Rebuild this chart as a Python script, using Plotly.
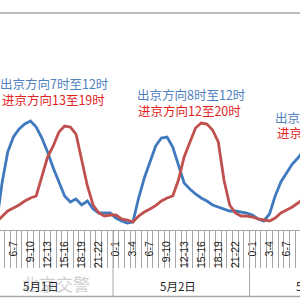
import plotly.graph_objects as go

# ---- data ----
days = ["5月1日", "5月2日", "5月3日"]
hours = ["0-1", "1-2", "2-3", "3-4", "4-5", "5-6", "6-7", "7-8", "8-9", "9-10",
         "10-11", "11-12", "12-13", "13-14", "14-15", "15-16", "16-17", "17-18",
         "18-19", "19-20", "20-21", "21-22", "22-23", "23-24"]
start_hour = 3  # first value = 5月1日 3-4

out_beijing = [0.25, 2.35, 3.9, 4.65, 5.05, 5.3, 5.45, 5.15, 4.6, 3.9, 3.1, 2.4, 1.7, 1.4,
               1.55, 1.25, 1.45, 1.05, 0.85, 0.85, 0.85, 0.6, 0.45, 0.35, 0.4, 1.6, 2.6,
               3.4, 4.2, 4.6, 4.65, 4.15, 3.25, 2.35, 2.05, 1.8, 1.6, 1.45, 1.25, 1.15,
               1.05, 0.95, 0.95, 0.9, 0.85, 0.75, 0.55, 0.45, 0.8, 1.7, 2.4, 2.85, 3.3,
               3.6, 4.0]
in_beijing = [0.4, 0.7, 0.95, 1.1, 1.25, 1.45, 1.6, 1.7, 2.7, 3.65, 4.2, 4.9, 5.2, 5.15,
              4.8, 3.5, 2.2, 1.25, 0.85, 0.7, 0.75, 0.75, 0.55, 0.5, 0.4, 0.7, 0.9, 1.05,
              1.22, 1.45, 1.6, 1.7, 2.5, 3.65, 4.4, 5.1, 5.35, 5.3, 5.0, 4.4, 2.5, 1.25,
              0.85, 0.7, 0.7, 0.65, 0.55, 0.5, 0.45, 0.6, 0.85, 1.0, 1.15, 1.35, 1.55]

notes = [
    ("出京方向7时至12时", "进京方向13至19时"),
    ("出京方向8时至12时", "进京方向12至20时"),
    ("出京方向7时至12时", "进京方向13至19时"),
]

BLUE = "#4179BF"
RED = "#C0504D"
GRID = "#a6a6a6"

n_cat = len(days) * len(hours)
xs_blue = list(range(start_hour, start_hour + len(out_beijing)))
xs_red = list(range(start_hour, start_hour + len(in_beijing)))

fig = go.Figure()
fig.add_trace(go.Scatter(x=xs_blue, y=out_beijing, mode="lines",
                         line=dict(color=BLUE, width=2.8), name="出京方向",
                         hoverinfo="skip"))
fig.add_trace(go.Scatter(x=xs_red, y=in_beijing, mode="lines",
                         line=dict(color=RED, width=2.8), name="进京方向",
                         hoverinfo="skip"))

tickvals = [d * len(hours) + h for d in range(len(days)) for h in range(0, len(hours), 3)]
ticktext = [hours[v % len(hours)] for v in tickvals]

W, H = 300, 300
mt, mb = 20, 70
ph = H - mt - mb
x0r, x1r = 3.64, 56.36

fig.update_layout(
    width=W, height=H,
    margin=dict(l=0, r=0, t=mt, b=mb, pad=0),
    paper_bgcolor="white", plot_bgcolor="white",
    showlegend=False,
    xaxis=dict(range=[x0r, x1r], showgrid=False, zeroline=False,
               showline=True, linecolor=GRID, linewidth=1,
               tickmode="array", tickvals=tickvals, ticktext=ticktext,
               ticks="outside", ticklen=0, tickangle=-90,
               ticklabelstandoff=6,
               tickfont=dict(family="Liberation Sans", size=10.5, color="#222"),
               minor=dict(tickmode="array",
                          tickvals=[i - 0.5 for i in range(n_cat + 1)],
                          ticks="outside", ticklen=37, tickcolor=GRID, tickwidth=1,
                          showgrid=False)),
    yaxis=dict(range=[0, 10.5], visible=False, fixedrange=True),
)

# day separators
shapes = []
for d in range(1, len(days)):
    xb = d * len(hours) - 0.5
    shapes.append(dict(type="line", xref="x", yref="paper", x0=xb, x1=xb,
                       y0=0, y1=-66 / ph, line=dict(color=GRID, width=1)))
# chart frame lines (top and bottom)
shapes.append(dict(type="line", xref="paper", yref="paper", x0=0, x1=1,
                   y0=-(296.5 - (H - mb)) / ph, y1=-(296.5 - (H - mb)) / ph,
                   line=dict(color=GRID, width=1.5)))
shapes.append(dict(type="line", xref="paper", yref="paper", x0=0, x1=1,
                   y0=((H - mb) - 13) / ph, y1=((H - mb) - 13) / ph,
                   line=dict(color=GRID, width=1.5)))
fig.update_layout(shapes=shapes)

def px_to_paper_x(c):
    return (c - x0r) / (x1r - x0r)

annotations = []
# watermark
annotations.append(dict(text="北京交警", xref="paper", yref="paper", x=56 / W,
                        y=-(283 - (H - mb)) / ph, showarrow=False,
                        xanchor="center", yanchor="middle",
                        font=dict(family="Noto Sans CJK SC", size=17,
                                  color="rgba(185,185,185,0.7)")))
# day labels (centered on day group)
for d, name in enumerate(days):
    cx = d * len(hours) + (len(hours) - 1) / 2
    annotations.append(dict(text=name, xref="paper", yref="paper",
                            x=px_to_paper_x(cx), xshift=-3.5,
                            y=-(285.5 - (H - mb)) / ph, showarrow=False,
                            xanchor="center", yanchor="middle",
                            font=dict(family="Noto Sans CJK SC", size=11.5, color="#222")))
# period notes
note_pos = [(0, 83, 99.5), (136.5, 95, 110), (275, 117, 132)]
for (blue_t, red_t), (lx, by, ry) in zip(notes, note_pos):
    annotations.append(dict(text=blue_t, xref="paper", yref="paper", x=lx / W,
                            y=((H - mb) - by) / ph, xanchor="left", yanchor="middle",
                            showarrow=False, xshift=-1, borderpad=0,
                            font=dict(family="Noto Sans CJK SC", size=12.5, color="#4F81BD")))
    annotations.append(dict(text=red_t, xref="paper", yref="paper", x=(lx + 1.5) / W,
                            y=((H - mb) - ry) / ph, xanchor="left", yanchor="middle",
                            showarrow=False, xshift=-1, borderpad=0,
                            font=dict(family="Noto Sans CJK SC", size=12.5, color="#E0251E")))
fig.update_layout(annotations=annotations)

fig.write_html("out.html", config={"displayModeBar": False})
